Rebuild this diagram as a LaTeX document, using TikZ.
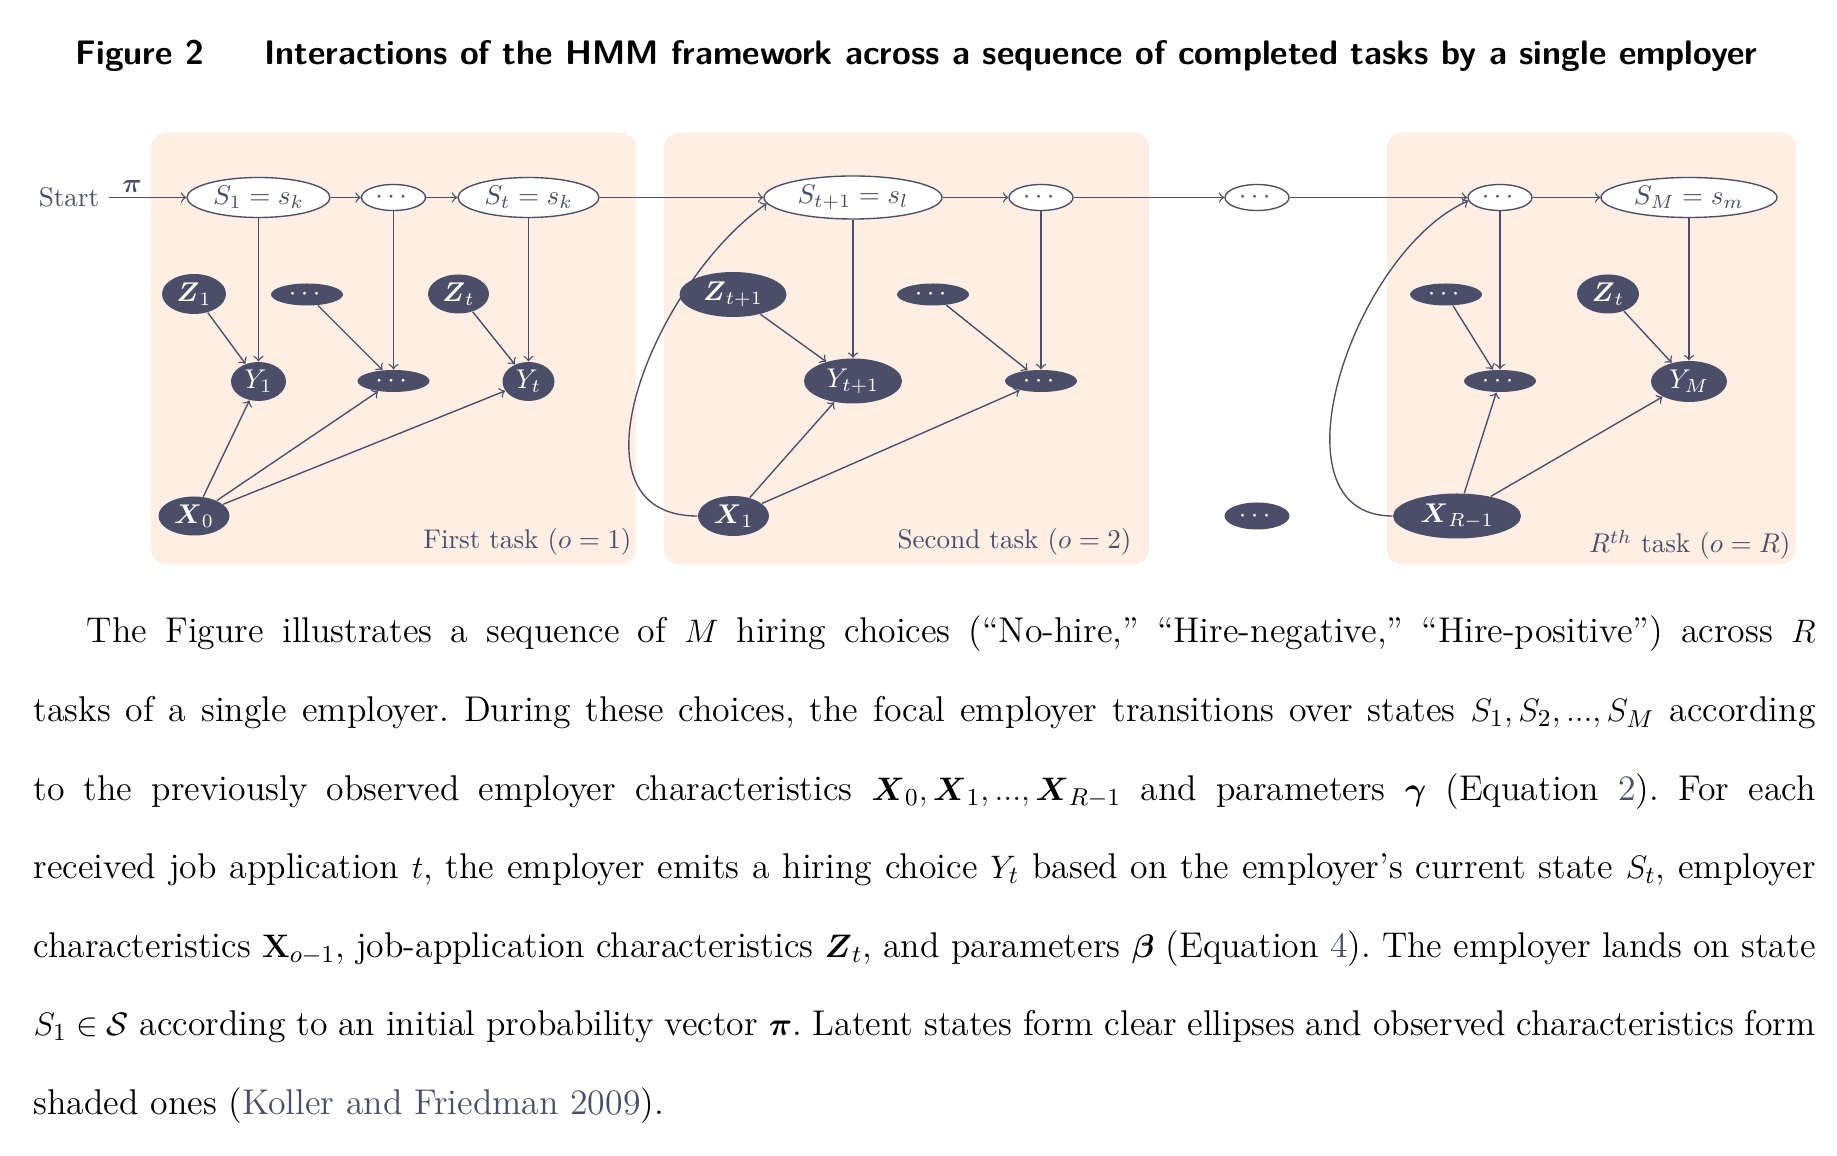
\documentclass[tikz,border=0pt]{standalone}
\usepackage{amsmath}
\usetikzlibrary{shapes.geometric}
\definecolor{slate}{HTML}{4A4E69}
\definecolor{taskbg}{HTML}{FEEEE3}
\newcommand{\lnk}[1]{\textcolor{slate}{#1}}
\tikzset{sz/.style 2 args={minimum width=#1*0.369pt, minimum height=#2*0.369pt}}
\begin{document}
\begin{tikzpicture}[x=0.369pt, y=0.369pt,
	every node/.style={font=\fontsize{10}{12}\selectfont, text=slate},
	latent/.style={ellipse, draw=slate, line width=0.5pt, fill=white, inner sep=0pt},
	obs/.style={ellipse, fill=slate, text=white, inner sep=0pt},
	conn/.style={->, draw=slate, line width=0.5pt},
	task/.style={fill=taskbg, rounded corners=5.5pt},
	tasklabel/.style={anchor=base east, inner sep=0pt},
	caption/.style={font=\fontsize{12.55}{14}\selectfont\sffamily\bfseries, text=black, inner sep=0pt, anchor=base west},
	]
	\useasboundingbox (0,0) rectangle (1837,-1156);
	\node[caption] (fig) at (75,-65) {Figure 2};
	\node[caption] (title) at (264,-65) {Interactions of the HMM framework across a sequence of completed tasks by a single employer};
	\fill[task] (151,-133) rectangle (636,-564);
	\fill[task] (664,-133) rectangle (1149,-564);
	\fill[task] (1387,-133) rectangle (1796,-564);
	\node[tasklabel] (lab1) at (632,-549) {First task ($o=1$)};
	\node[tasklabel] (lab2) at (1132,-549) {Second task ($o=2$)};
	\node[tasklabel] (lab3) at (1791,-553) {$R^{th}$ task ($o=R$)};
	\node (start) at (69,-197.5) {Start};
	\node[latent, sz={143}{40}] (s1) at (258.5,-197.5) {$S_1=s_k$};
	\node[latent, sz={64}{26}] (d1) at (393.5,-197.5) {$\cdots$};
	\node[latent, sz={141}{40}] (st) at (528.5,-197.5) {$S_t=s_k$};
	\node[latent, sz={178}{43}] (st1) at (853,-197.5) {$S_{t+1}=s_l$};
	\node[latent, sz={64}{26}] (d2) at (1041,-197.5) {$\cdots$};
	\node[latent, sz={64}{26}] (d3) at (1257,-197.5) {$\cdots$};
	\node[latent, sz={64}{26}] (d4) at (1500,-197.5) {$\cdots$};
	\node[latent, sz={176}{40}] (sm) at (1689,-197.5) {$S_M=s_m$};
	\node[obs, sz={64}{40}] (z1) at (194,-294) {$\boldsymbol{Z}_1$};
	\node[obs, sz={72}{22}] (dz1) at (307,-294.5) {$\cdots$};
	\node[obs, sz={61}{39}] (zt) at (458.5,-294) {$\boldsymbol{Z}_t$};
	\node[obs, sz={107}{45}] (zt1) at (733,-294.5) {$\boldsymbol{Z}_{t+1}$};
	\node[obs, sz={72}{22}] (dz2) at (933,-294.5) {$\cdots$};
	\node[obs, sz={72}{22}] (dz3) at (1446,-294.5) {$\cdots$};
	\node[obs, sz={62}{39}] (zr) at (1608,-294) {$\boldsymbol{Z}_t$};
	\node[obs, sz={55}{39}] (y1) at (258.5,-381.5) {$Y_1$};
	\node[obs, sz={72}{22}] (dy1) at (393.5,-381) {$\cdots$};
	\node[obs, sz={52}{39}] (yt) at (528.5,-381.5) {$Y_t$};
	\node[obs, sz={98}{45}] (yt1) at (853,-381) {$Y_{t+1}$};
	\node[obs, sz={72}{22}] (dy2) at (1041,-381) {$\cdots$};
	\node[obs, sz={72}{22}] (dy3) at (1500,-381) {$\cdots$};
	\node[obs, sz={76}{41}] (ym) at (1689,-381.5) {$Y_M$};
	\node[obs, sz={71}{39}] (x0) at (194,-516) {$\boldsymbol{X}_0$};
	\node[obs, sz={71}{40}] (x1) at (733.5,-516) {$\boldsymbol{X}_1$};
	\node[obs, sz={65}{27}] (dx) at (1257,-516) {$\cdots$};
	\node[obs, sz={128}{45}] (xr) at (1457,-516) {$\boldsymbol{X}_{R-1}$};
	\draw[conn] (start) -- node[pos=0.3, above, inner sep=1.5pt] (pi) {$\boldsymbol{\pi}$} (s1);
	\foreach \a/\b in {s1/d1, d1/st, st/st1, st1/d2, d2/d3, d3/d4, d4/sm}
		\draw[conn] (\a) -- (\b);
	\foreach \a/\b in {s1/y1, d1/dy1, st/yt, st1/yt1, d2/dy2, d4/dy3, sm/ym,
		z1/y1, dz1/dy1, zt/yt, zt1/yt1, dz2/dy2, dz3/dy3, zr/ym,
		x0/y1, x0/dy1, x0/yt, x1/yt1, x1/dy2, xr/dy3, xr/ym}
		\draw[conn] (\a) -- (\b);
	\draw[conn] (x1.west) to[out=180, in=215, looseness=1.1] (st1.184);
	\draw[conn] (xr.west) to[out=180, in=204] (d4.186);
	\node[anchor=base west, text width=657.6pt, align=justify, inner sep=0pt, text=black,
		font=\fontsize{13.2}{29}\selectfont\frenchspacing] (para) at (33,-643) {\hspace*{19.7pt}The Figure illustrates a sequence of $M$ hiring choices (``No-hire,'' ``Hire-negative,'' ``Hire-positive'') across $R$\linebreak
		tasks of a single employer. During these choices, the focal employer transitions over states $S_1, S_2, ..., S_M$ according\linebreak
		to the previously observed employer characteristics $\boldsymbol{X}_0, \boldsymbol{X}_1, ..., \boldsymbol{X}_{R-1}$ and parameters $\boldsymbol{\gamma}$ (Equation \lnk{2}). For each\linebreak
		received job application $t$, the employer emits a hiring choice $Y_t$ based on the employer's current state $S_t$, employer\linebreak
		characteristics $\mathbf{X}_{o-1}$, job-application characteristics $\boldsymbol{Z}_t$, and parameters $\boldsymbol{\beta}$ (Equation \lnk{4}). The employer lands on state\linebreak
		$S_1\in\mathcal{S}$ according to an initial probability vector $\boldsymbol{\pi}$. Latent states form clear ellipses and observed characteristics form\linebreak
		shaded ones (\lnk{Koller and Friedman 2009}).};
\end{tikzpicture}
\end{document}
